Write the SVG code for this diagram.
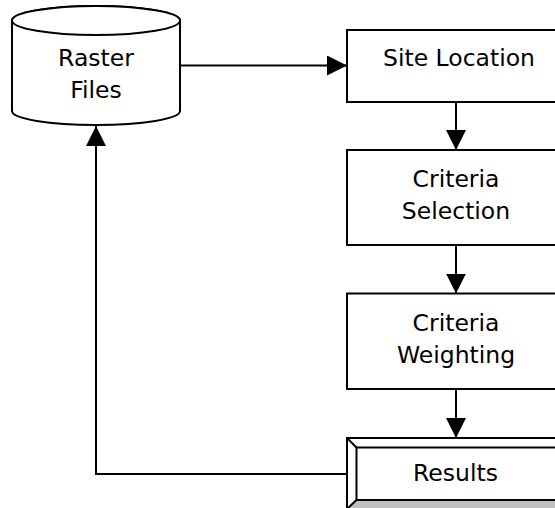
<svg xmlns="http://www.w3.org/2000/svg" width="555" height="508" viewBox="0 0 555 508">
  <style>
    .shape { fill: #ffffff; stroke: #000000; stroke-width: 2; }
    .label { font-family: "DejaVu Sans", Verdana, sans-serif; font-size: 23.5px; fill: #000000; text-anchor: middle; }
    .wire { fill: none; stroke: #000000; stroke-width: 2; }
  </style>
  <defs>
    <marker id="head" markerUnits="userSpaceOnUse" markerWidth="20" markerHeight="20" viewBox="0 0 20 20" refX="20" refY="10" orient="auto">
      <path d="M0,0 L20,10 L0,20 Z" fill="#000000"/>
    </marker>
  </defs>

  <!-- data store: cylinder -->
  <g id="raster-files">
    <path class="shape" d="M12,20.5 L12,111 A84,14 0 0 0 180,111 L180,20.5 A84,14.5 0 0 0 12,20.5 Z"/>
    <ellipse class="shape" cx="96" cy="20.5" rx="84" ry="14.5"/>
    <text class="label" x="96" y="66">Raster</text>
    <text class="label" x="96" y="98">Files</text>
  </g>

  <g id="site-location">
    <rect class="shape" x="347" y="30" width="226" height="72"/>
    <text class="label" x="459" y="66">Site Location</text>
  </g>

  <g id="criteria-selection">
    <rect class="shape" x="347" y="150" width="226" height="95"/>
    <text class="label" x="456" y="187">Criteria</text>
    <text class="label" x="456" y="219">Selection</text>
  </g>

  <g id="criteria-weighting">
    <rect class="shape" x="347" y="293.5" width="226" height="95.5"/>
    <text class="label" x="456" y="331">Criteria</text>
    <text class="label" x="456" y="363">Weighting</text>
  </g>

  <!-- bevelled output box -->
  <g id="results">
    <rect class="shape" x="347" y="438" width="230" height="71"/>
    <path d="M347,509 L356.5,500 L567.5,500 L577,509 Z" fill="#c0c0c0" stroke="#000000" stroke-width="2"/>
    <rect class="shape" x="356.5" y="447.5" width="211" height="52.5"/>
    <line class="wire" x1="347" y1="438" x2="356.5" y2="447.5"/>
    <text class="label" x="455.5" y="481">Results</text>
  </g>

  <g id="connectors">
    <line class="wire" x1="180" y1="65.5" x2="347" y2="65.5" marker-end="url(#head)"/>
    <line class="wire" x1="456" y1="102" x2="456" y2="150" marker-end="url(#head)"/>
    <line class="wire" x1="456" y1="245" x2="456" y2="293.5" marker-end="url(#head)"/>
    <line class="wire" x1="456" y1="389" x2="456" y2="438" marker-end="url(#head)"/>
    <polyline class="wire" points="347,474 96,474 96,126" marker-end="url(#head)"/>
  </g>
</svg>
